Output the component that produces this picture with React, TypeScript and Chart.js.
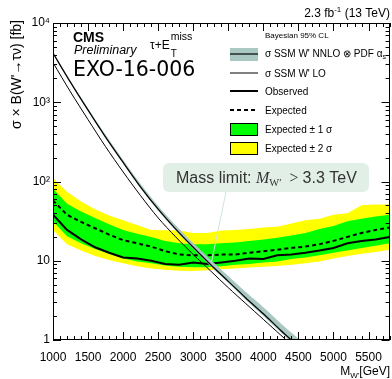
import React, { useEffect, useRef } from 'react';
import { Chart, registerables } from 'chart.js';

Chart.register(...registerables);

// ---- data ----
const masses = [1000, 1200, 1400, 1600, 1800, 2000, 2200, 2400, 2600, 2800, 3000, 3200, 3400, 3600, 3800, 4000, 4200, 4400, 4600, 4800, 5000, 5200, 5400, 5600, 5800];
const observed = [38.0, 24.5, 18.6, 14.8, 12.6, 11.0, 10.7, 10.0, 9.1, 8.9, 9.5, 9.1, 9.5, 10.0, 10.7, 10.5, 11.7, 12.0, 12.6, 13.5, 14.5, 16.6, 17.8, 18.6, 20.0];
const expected = [57.5, 38.0, 30.9, 25.7, 21.4, 18.2, 16.6, 15.1, 13.2, 12.0, 11.7, 11.7, 12.0, 12.0, 12.6, 13.2, 13.8, 14.5, 15.1, 16.2, 17.8, 20.0, 22.4, 24.5, 26.3];
const oneSigmaUp = [81, 52.5, 41.7, 34.7, 28.8, 24.5, 21.9, 20.0, 17.8, 16.6, 16.2, 16.2, 16.6, 17.0, 17.8, 18.6, 19.5, 20.9, 22.4, 25.1, 27.5, 31.6, 33.9, 36.3, 38.0];
const oneSigmaDown = [31.6, 20.4, 16.6, 14.1, 12.3, 10.7, 9.8, 9.3, 8.7, 8.4, 8.3, 8.3, 8.5, 8.9, 9.1, 9.5, 9.8, 10.5, 11.0, 11.7, 12.6, 13.5, 14.5, 15.5, 16.6];
const twoSigmaUp = [110, 74, 56, 44.7, 37.2, 32.4, 28.2, 24.5, 24.3, 24.0, 22.4, 22.4, 24.0, 24.5, 25.1, 26.3, 26.9, 29.5, 32.4, 33.9, 38.0, 39.8, 50.1, 51.3, 51.3];
const twoSigmaDown = [24.5, 16.2, 13.5, 11.5, 10.2, 9.3, 8.5, 8.0, 7.7, 7.5, 7.4, 7.6, 7.8, 8.0, 8.2, 8.4, 8.6, 8.9, 9.3, 9.8, 10.7, 11.5, 12.3, 12.9, 13.8];

const theoryMasses = [1000, 1250, 1500, 1750, 2000, 2250, 2500, 2750, 3000, 3250, 3500, 3750, 4000, 4250, 4500];
const nnlo = [4170, 1780, 794, 363, 174, 85.1, 44.7, 25.1, 14.8, 8.91, 5.50, 3.39, 2.14, 1.32, 0.83];
const nnloUp = [4340, 1870, 842, 388, 188, 92.8, 49.2, 28.1, 16.7, 10.25, 6.44, 4.03, 2.59, 1.62, 1.04];
const nnloDown = [4090, 1744, 770, 352, 169, 81.7, 42.9, 24.1, 14.06, 8.46, 5.23, 3.19, 2.01, 1.24, 0.77];
const lo = [3160, 1350, 603, 275, 132, 66.1, 34.7, 20.0, 12.0, 7.41, 4.57, 2.88, 1.82, 1.15, 0.72];

const xTickValues = [1000, 1500, 2000, 2500, 3000, 3500, 4000, 4500, 5000, 5500];
const yTickValues = [1, 10, 100, 1000, 10000];
const yTickLabels = ['1', '10', '10²', '10³', '10⁴'];

const X_MIN = 1000;
const X_MAX = 5800;

const SANS = '"Liberation Sans", Arial, Helvetica, sans-serif';
const SERIF = '"Liberation Serif", "DejaVu Serif", serif';
const BAND = '#a9c8c2';
const GREEN = '#00ff00';
const YELLOW = '#ffff00';

type Run = { t: string; font: string; dy?: number };

function runsWidth(ctx: CanvasRenderingContext2D, runs: Run[]) {
  let w = 0;
  for (const r of runs) {
    ctx.font = r.font;
    w += ctx.measureText(r.t).width;
  }
  return w;
}

function drawRuns(ctx: CanvasRenderingContext2D, runs: Run[], x: number, y: number, align: 'left' | 'right' = 'left', color = '#000') {
  let cx = align === 'right' ? x - runsWidth(ctx, runs) : x;
  ctx.save();
  ctx.fillStyle = color;
  ctx.textAlign = 'left';
  ctx.textBaseline = 'alphabetic';
  for (const r of runs) {
    ctx.font = r.font;
    ctx.fillText(r.t, cx, y + (r.dy || 0));
    cx += ctx.measureText(r.t).width;
  }
  ctx.restore();
}

const decorPlugin = {
  id: 'decor',
  afterDraw(chart: any) {
    const ctx: CanvasRenderingContext2D = chart.ctx;
    const { left, right, top, bottom } = chart.chartArea;
    const xs = chart.scales.x;
    const ys = chart.scales.y;

    // limit pointer line
    ctx.save();
    ctx.strokeStyle = '#cfe6d6';
    ctx.lineWidth = 1;
    ctx.beginPath();
    ctx.moveTo(226, 192);
    ctx.lineTo(xs.getPixelForValue(3260), ys.getPixelForValue(9.6));
    ctx.stroke();
    ctx.restore();

    // frame
    ctx.save();
    ctx.strokeStyle = '#000';
    ctx.lineWidth = 1;
    ctx.strokeRect(Math.round(left) + 0.5, Math.round(top) + 0.5, Math.round(right - left) - 1, Math.round(bottom - top) - 1);

    // x ticks
    ctx.beginPath();
    for (let m = X_MIN; m <= X_MAX; m += 100) {
      const px = Math.round(xs.getPixelForValue(m)) + 0.5;
      const len = m % 500 === 0 ? 8 : 4;
      ctx.moveTo(px, bottom);
      ctx.lineTo(px, bottom - len);
      ctx.moveTo(px, top);
      ctx.lineTo(px, top + len);
    }
    // y ticks
    for (let k = 0; k < 4; k++) {
      for (let d = 1; d <= 9; d++) {
        const v = d * Math.pow(10, k);
        const py = Math.round(ys.getPixelForValue(v)) + 0.5;
        const len = d === 1 ? 8 : 4;
        ctx.moveTo(left, py);
        ctx.lineTo(left + len, py);
        ctx.moveTo(right, py);
        ctx.lineTo(right - len, py);
      }
    }
    ctx.stroke();
    ctx.restore();

    // axis titles
    drawRuns(ctx, [
      { t: 'M', font: `12px ${SANS}` },
      { t: "W'", font: `8px ${SANS}`, dy: 3 },
      { t: '[GeV]', font: `12px ${SANS}` },
    ], 390, 375, 'right');

    ctx.save();
    ctx.translate(21, 20);
    ctx.rotate(-Math.PI / 2);
    ctx.font = `14px ${SANS}`;
    ctx.fillStyle = '#000';
    ctx.textAlign = 'right';
    ctx.textBaseline = 'alphabetic';
    ctx.fillText("σ × B(W'→τν) [fb]", 0, 0);
    ctx.restore();

    // top right lumi
    drawRuns(ctx, [
      { t: '2.3 fb', font: `12px ${SANS}` },
      { t: '-1', font: `8px ${SANS}`, dy: -5 },
      { t: ' (13 TeV)', font: `12px ${SANS}` },
    ], 390, 17, 'right');

    // CMS labels
    drawRuns(ctx, [{ t: 'CMS', font: `bold 14px ${SANS}` }], 73, 42);
    drawRuns(ctx, [{ t: 'Preliminary', font: `italic 12.5px ${SANS}` }], 74, 54);
    drawRuns(ctx, [{ t: 'EXO-16-006', font: `20.5px "DejaVu Sans", ${SANS}` }], 73, 76);
    drawRuns(ctx, [{ t: 'τ+E', font: `12px ${SANS}` }], 150, 49);
    ctx.save();
    ctx.font = `12px ${SANS}`;
    const wTE = ctx.measureText('τ+E').width;
    ctx.restore();
    drawRuns(ctx, [{ t: 'miss', font: `10.5px ${SANS}` }], 150 + wTE + 1, 40);
    drawRuns(ctx, [{ t: 'T', font: `10px ${SANS}` }], 150 + wTE + 1, 57);

    // legend
    const sx = 230, sw = 28, tx = 265;
    drawRuns(ctx, [{ t: 'Bayesian 95% CL', font: `8px ${SANS}` }], tx, 38);
    ctx.save();
    ctx.fillStyle = BAND;
    ctx.fillRect(sx, 48, sw, 13);
    ctx.strokeStyle = '#000';
    ctx.lineWidth = 1.2;
    ctx.beginPath();
    ctx.moveTo(sx, 54);
    ctx.lineTo(sx + sw, 54);
    ctx.stroke();
    ctx.lineWidth = 1;
    ctx.beginPath();
    ctx.moveTo(sx, 73);
    ctx.lineTo(sx + sw, 73);
    ctx.stroke();
    ctx.lineWidth = 2;
    ctx.beginPath();
    ctx.moveTo(sx, 91);
    ctx.lineTo(sx + sw, 91);
    ctx.stroke();
    ctx.setLineDash([4, 3]);
    ctx.beginPath();
    ctx.moveTo(sx, 110);
    ctx.lineTo(sx + sw, 110);
    ctx.stroke();
    ctx.setLineDash([]);
    ctx.lineWidth = 1;
    ctx.fillStyle = GREEN;
    ctx.fillRect(sx, 123, sw, 13);
    ctx.strokeRect(sx + 0.5, 123.5, sw - 1, 12);
    ctx.fillStyle = YELLOW;
    ctx.fillRect(sx, 142, sw, 13);
    ctx.strokeRect(sx + 0.5, 142.5, sw - 1, 12);
    ctx.restore();

    const lf = `10px ${SANS}`;
    drawRuns(ctx, [
      { t: "σ SSM W' NNLO ⊗ PDF α", font: lf },
      { t: 's', font: `7px ${SANS}`, dy: 2 },
    ], tx, 57);
    drawRuns(ctx, [{ t: "σ SSM W' LO", font: lf }], tx, 77);
    drawRuns(ctx, [{ t: 'Observed', font: lf }], tx, 95);
    drawRuns(ctx, [{ t: 'Expected', font: lf }], tx, 114);
    drawRuns(ctx, [{ t: 'Expected ± 1 σ', font: lf }], tx, 133);
    drawRuns(ctx, [{ t: 'Expected ± 2 σ', font: lf }], tx, 152);

    // mass limit box
    ctx.save();
    ctx.fillStyle = '#e2efe6';
    ctx.beginPath();
    (ctx as any).roundRect(163, 163, 206, 29, 6);
    ctx.fill();
    ctx.restore();
    drawRuns(ctx, [
      { t: 'Mass limit: ', font: `16px ${SANS}` },
      { t: 'M', font: `italic 16px ${SERIF}` },
      { t: 'W′', font: `10.5px ${SERIF}`, dy: 3 },
      { t: '  > ', font: `16px ${SERIF}` },
      { t: '3.3 TeV', font: `16px ${SANS}` },
    ], 176, 183, 'left', '#333');
  },
};

function pts(xsArr: number[], ysArr: number[]) {
  return xsArr.map((x, i) => ({ x, y: ysArr[i] }));
}

export default function App() {
  const ref = useRef<HTMLCanvasElement | null>(null);

  useEffect(() => {
    if (!ref.current) return;
    const common = { pointRadius: 0, pointHoverRadius: 0 };
    const chart = new Chart(ref.current, {
      type: 'line',
      data: {
        datasets: [
          { ...common, label: 'LO', data: pts(theoryMasses, lo), borderColor: '#000', borderWidth: 1, fill: false, tension: 0.3 },
          { ...common, label: 'NNLO', data: pts(theoryMasses, nnlo), borderColor: '#000', borderWidth: 1.2, fill: false, tension: 0.3 },
          { ...common, label: 'NNLO up', data: pts(theoryMasses, nnloUp), borderWidth: 0, borderColor: BAND, backgroundColor: BAND, fill: 3, tension: 0.3 },
          { ...common, label: 'NNLO down', data: pts(theoryMasses, nnloDown), borderWidth: 0, borderColor: BAND, fill: false, tension: 0.3 },
          { ...common, label: 'Observed', data: pts(masses, observed), borderColor: '#000', borderWidth: 2, fill: false },
          { ...common, label: 'Expected', data: pts(masses, expected), borderColor: '#000', borderWidth: 2, borderDash: [4, 3], fill: false },
          { ...common, label: '1s up', data: pts(masses, oneSigmaUp), borderWidth: 0, borderColor: GREEN, backgroundColor: GREEN, fill: 7 },
          { ...common, label: '1s down', data: pts(masses, oneSigmaDown), borderWidth: 0, borderColor: GREEN, fill: false },
          { ...common, label: '2s up', data: pts(masses, twoSigmaUp), borderWidth: 0, borderColor: YELLOW, backgroundColor: YELLOW, fill: 9 },
          { ...common, label: '2s down', data: pts(masses, twoSigmaDown), borderWidth: 0, borderColor: YELLOW, fill: false },
        ],
      },
      options: {
        animation: false,
        responsive: false,
        events: [],
        layout: { padding: { top: 23, right: 2, left: 0, bottom: 0 } },
        plugins: { legend: { display: false }, tooltip: { enabled: false }, title: { display: false } },
        scales: {
          x: {
            type: 'linear',
            min: X_MIN,
            max: X_MAX,
            afterBuildTicks: (s: any) => { s.ticks = xTickValues.map((v) => ({ value: v })); },
            afterFit: (s: any) => { s.height = 39; },
            ticks: { callback: (v: any) => String(v), font: { family: SANS, size: 12 }, color: '#000', padding: 10, maxRotation: 0, autoSkip: false },
            grid: { display: false, drawTicks: false },
            border: { display: false },
          },
          y: {
            type: 'logarithmic',
            min: 1,
            max: 10000,
            afterBuildTicks: (s: any) => { s.ticks = yTickValues.map((v) => ({ value: v })); },
            afterFit: (s: any) => { s.width = 53; },
            ticks: {
              callback: (v: any) => { const i = yTickValues.indexOf(Number(v)); return i >= 0 ? yTickLabels[i] : ''; },
              font: { family: SANS, size: 12 }, color: '#000', padding: 3, autoSkip: false,
            },
            grid: { display: false, drawTicks: false },
            border: { display: false },
          },
        },
      } as any,
      plugins: [decorPlugin],
    });
    return () => chart.destroy();
  }, []);

  return (
    <div style={{ position: 'absolute', left: 0, top: 0, width: 392, height: 379, background: '#fff' }}>
      <canvas ref={ref} width={392} height={379} style={{ display: 'block' }} />
    </div>
  );
}
